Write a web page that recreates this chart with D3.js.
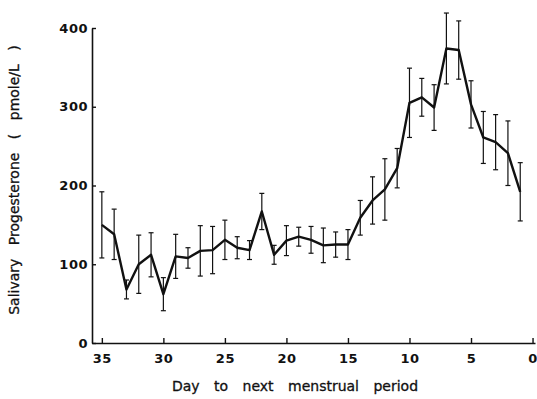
<!DOCTYPE html>
<html>
<head>
<meta charset="utf-8">
<script src="https://cdn.jsdelivr.net/npm/d3@7"></script>
<style>
  body { margin: 0; background: #fff; }
  text { font-family: "DejaVu Sans", Arial, sans-serif; fill: #111; }
</style>
</head>
<body>
<svg id="chart" width="537" height="399"></svg>
<script>
// days before next menstrual period
var days = [35, 34, 33, 32, 31, 30, 29, 28, 27, 26, 25, 24, 23, 22, 21, 20, 19, 18,
            17, 16, 15, 14, 13, 12, 11, 10, 9, 8, 7, 6, 5, 4, 3, 2, 1];
// mean salivary progesterone (pmole/L)
var means = [150, 138, 68, 100, 112, 62, 110, 108, 117, 118, 131, 121, 118, 167, 112, 130, 135, 131,
             124, 125, 125, 159, 181, 195, 222, 305, 312, 299, 374, 372, 303, 261, 255, 241, 192];
// error (+/-)
var errs = [42, 32, 12, 37, 28, 21, 28, 13, 32, 30, 25, 14, 12, 23, 12, 19, 12, 17,
            22, 16, 19, 22, 30, 39, 25, 44, 24, 29, 45, 37, 30, 33, 35, 41, 37];
var xTicks = [35, 30, 25, 20, 15, 10, 5, 0];
var yTicks = [0, 100, 200, 300, 400];

var svg = d3.select("#chart"),
    margin = {top: 28, right: 2, bottom: 56, left: 92},
    width = +svg.attr("width") - margin.left - margin.right,
    height = +svg.attr("height") - margin.top - margin.bottom,
    g = svg.append("g").attr("transform", "translate(" + margin.left + "," + margin.top + ")");

var x = d3.scaleLinear().domain([35.8, -0.2]).range([0, width]);
var y = d3.scaleLinear().domain([0, 400]).range([height, 0]);

var data = days.map(function(d, i) { return {day: d, mean: means[i], err: errs[i]}; });

// axes
var xAxis = g.append("g")
    .attr("transform", "translate(0," + height + ")")
    .call(d3.axisBottom(x).tickValues(xTicks).tickSize(-5).tickSizeOuter(0).tickPadding(11));
var yAxis = g.append("g")
    .call(d3.axisLeft(y).tickValues(yTicks).tickSize(-4).tickSizeOuter(0).tickPadding(4));

[xAxis, yAxis].forEach(function(a) {
  a.select(".domain").attr("stroke", "#111").attr("stroke-width", 1.6);
  a.selectAll(".tick line").attr("stroke", "#111").attr("stroke-width", 1.4);
  a.selectAll(".tick text").style("font-size", "13px").attr("fill", "#111")
    .style("letter-spacing", "0.5px").style("font-weight", "bold");
});

// error bars
var eb = g.append("g").attr("stroke", "#111").attr("stroke-width", 1.2)
  .selectAll("g").data(data).enter().append("g");
eb.append("line")
    .attr("x1", function(d) { return x(d.day); })
    .attr("x2", function(d) { return x(d.day); })
    .attr("y1", function(d) { return y(d.mean - d.err); })
    .attr("y2", function(d) { return y(d.mean + d.err); });
eb.append("line")
    .attr("x1", function(d) { return x(d.day) - 2.5; })
    .attr("x2", function(d) { return x(d.day) + 2.5; })
    .attr("y1", function(d) { return y(d.mean + d.err); })
    .attr("y2", function(d) { return y(d.mean + d.err); });
eb.append("line")
    .attr("x1", function(d) { return x(d.day) - 2.5; })
    .attr("x2", function(d) { return x(d.day) + 2.5; })
    .attr("y1", function(d) { return y(d.mean - d.err); })
    .attr("y2", function(d) { return y(d.mean - d.err); });

// mean line
var line = d3.line()
    .x(function(d) { return x(d.day); })
    .y(function(d) { return y(d.mean); });
g.append("path")
    .datum(data)
    .attr("fill", "none")
    .attr("stroke", "#111")
    .attr("stroke-width", 2.4)
    .attr("stroke-linejoin", "round")
    .attr("d", line);

// axis titles
svg.append("text")
    .attr("x", 295).attr("y", 391)
    .attr("text-anchor", "middle")
    .style("font-size", "14px")
    .style("word-spacing", "10px")
    .style("stroke", "#111").style("stroke-width", 0.3)
    .text("Day to next menstrual period");
svg.append("text")
    .attr("transform", "translate(19,180) rotate(-90)")
    .attr("text-anchor", "middle")
    .style("font-size", "14px")
    .style("word-spacing", "9px")
    .style("stroke", "#111").style("stroke-width", 0.3)
    .text("Salivary Progesterone ( pmole/L )");
</script>
</body>
</html>
